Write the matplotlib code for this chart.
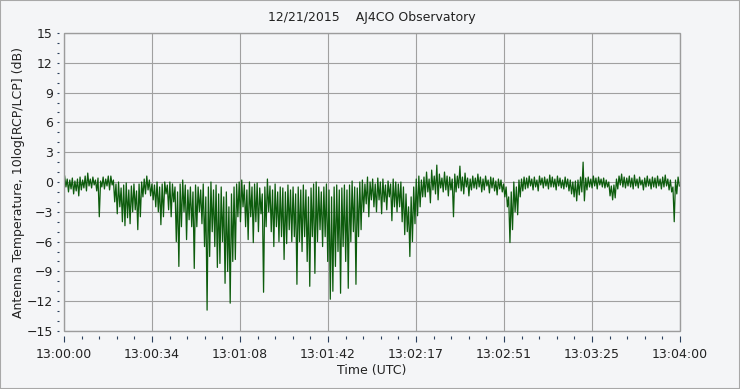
import matplotlib

matplotlib.use("Agg")
import matplotlib.pyplot as plt
import numpy as np
from matplotlib.patches import Rectangle
from matplotlib.ticker import AutoMinorLocator, FixedLocator

TITLE = "12/21/2015    AJ4CO Observatory"
XLABEL = "Time (UTC)"
YLABEL = "Antenna Temperature, 10log[RCP/LCP] (dB)"
XTICK_LABELS = ["13:00:00", "13:00:34", "13:01:08", "13:01:42",
                "13:02:17", "13:02:51", "13:03:25", "13:04:00"]
YTICKS = [-15, -12, -9, -6, -3, 0, 3, 6, 9, 12, 15]

# per-second envelope of the trace (dB), t = 0..239 s
upper = [
    0.6, 0.3, 0.2, 0.4, 0.1, 0.3, 0.5, 0.2, 0.6, 0.9,
    0.3, 0.5, 0.2, 0.4, 0.1, 0.5, 0.3, 0.6, 0.6, 0.2,
    -0.2, 0.0, -0.6, -0.3, -0.1, -0.8, -0.4, -0.2, -0.9, -0.2,
    0.0, 0.3, 0.6, 0.2, -0.2, -0.3, 0.0, -0.5, -0.2, 0.0,
    -0.3, 0.0, -0.2, -0.5, -1.0, -0.2, 0.2, -0.3, -0.8, -0.5,
    -1.0, -0.3, -0.5, -0.8, -0.2, -1.5, -0.5, 0.0, -0.8, -0.3,
    -1.2, -0.5, -1.5, -1.0, -2.5, -1.2, -0.5, -0.2, 0.0, 0.2,
    -0.3, -0.8, 0.0, -0.5, -0.2, -0.1, -0.6, -1.2, -0.5, 0.3,
    -0.4, -0.8, -0.2, -1.0, -0.5, -0.6, -1.0, -0.3, -0.8, -0.5,
    -1.2, -0.5, -0.8, -0.3, -0.8, -1.5, -0.6, -0.2, 0.0, -0.5,
    -1.0, -0.5, -0.2, -0.8, -1.5, -0.5, -0.3, -0.8, -0.6, -0.3,
    -0.8, -0.3, 0.1, -0.5, -0.6, 0.0, 0.2, -0.2, 0.5, 0.0,
    0.3, -0.2, 0.4, 0.0, 0.3, -0.3, 0.1, -0.2, 0.3, 0.0,
    -0.2, 0.0, -0.5, -1.2, -2.5, -1.5, -0.5, 0.3, 0.6, 0.2,
    0.5, 1.0, 0.3, 1.2, 0.6, 1.7, 0.8, 0.4, 1.0, 0.6,
    0.5, 0.3, 0.8, 0.6, 1.6, 0.5, 0.9, 0.4, 0.3, 0.6,
    0.4, 0.8, 0.5, 0.3, 0.6, 0.2, 0.5, 0.4, 0.1, 0.3,
    0.2, -0.2, -0.5, -1.5, -1.0, 0.0, -0.5, 0.2, 0.3, 0.5,
    0.4, 0.6, 0.3, 0.5, 0.2, 0.6, 0.4, 0.5, 0.3, 0.7,
    0.5, 0.3, 0.6, 0.4, 0.2, 0.5, 0.3, 0.2, 0.0, 0.1,
    0.2, 0.5, 2.0, 0.4, 0.5, 0.3, 0.6, 0.4, 0.5, 0.3,
    0.4, 0.2, 0.0, -0.4, -0.3, 0.3, 0.6, 0.8, 0.5, 0.4,
    0.6, 0.4, 0.7, 0.3, 0.5, 0.2, 0.4, 0.6, 0.3, 0.5,
    0.4, 0.6, 0.3, 0.5, 0.7, 0.3, 0.2, -0.5, 0.2, 0.5,
]
lower = [
    -0.5, -1.0, -0.7, -1.2, -0.9, -1.4, -0.8, -0.6, -0.9, -0.4,
    -0.6, -0.3, -0.9, -3.5, -0.5, -0.7, -0.4, -0.8, -0.3, -2.0,
    -3.2, -2.5, -4.0, -4.4, -3.6, -4.2, -3.0, -2.8, -4.8, -3.5,
    -1.5, -1.2, -0.8, -1.4, -1.8, -2.5, -3.0, -4.3, -3.5, -1.2,
    -2.8, -3.5, -2.0, -6.0, -8.5, -4.5, -3.0, -5.8, -3.8, -4.5,
    -8.7, -4.5, -3.0, -4.2, -6.5, -12.9, -7.5, -5.0, -6.5, -8.6,
    -8.2, -6.0, -10.2, -9.0, -12.2, -8.0, -7.8, -3.5, -4.0, -2.5,
    -4.5, -5.8, -3.5, -6.1, -4.0, -5.0, -3.2, -11.1, -4.5, -3.0,
    -5.0, -6.5, -4.5, -6.0, -5.5, -7.8, -6.2, -4.8, -6.0, -5.5,
    -10.3, -6.0, -7.0, -5.5, -8.0, -10.5, -5.5, -9.2, -6.0, -4.8,
    -6.5, -5.5, -8.0, -11.8, -11.0, -8.5, -7.0, -11.2, -6.5, -8.0,
    -10.7, -6.0, -5.0, -10.3, -5.5, -4.8, -3.0, -2.2, -3.5, -1.8,
    -2.5, -3.0, -1.8, -3.2, -2.0, -2.8, -1.5, -3.9, -2.5, -3.0,
    -2.5, -4.0, -5.3, -5.0, -7.5, -6.0, -4.2, -3.4, -2.5, -1.5,
    -1.5, -1.0, -2.1, -0.8, -1.2, -1.8, -0.6, -1.0, -0.8, -1.4,
    -0.8, -3.5, -1.0, -0.6, -0.9, -1.2, -0.5, -1.4, -0.8, -0.6,
    -0.7, -0.5, -1.0, -0.8, -0.4, -1.1, -0.6, -0.9, -1.3, -0.7,
    -1.0, -1.5, -2.5, -6.1, -4.8, -3.0, -3.3, -1.5, -0.9, -0.7,
    -0.6, -0.4, -0.8, -0.5, -0.9, -0.3, -0.6, -0.4, -0.7, -0.5,
    -0.5, -0.8, -0.4, -0.6, -0.7, -0.5, -0.9, -1.2, -1.5, -1.9,
    -1.3, -1.0, -1.9, -0.8, -0.5, -0.6, -0.4, -0.7, -0.3, -0.5,
    -0.6, -0.5, -1.4, -1.8, -1.6, -0.7, -0.3, -0.5, -0.6, -0.4,
    -0.5, -0.7, -0.4, -0.6, -0.3, -0.8, -0.5, -0.4, -0.7, -0.5,
    -0.6, -0.4, -0.7, -0.5, -0.4, -0.8, -1.0, -4.0, -1.2, -0.4,
]

BG = "#f4f5f7"
FRAME = "#9c9c9c"
TICKC = "#2b3f5c"
TXT = "#222222"
LINE = "#0d5c0d"

sec = np.arange(len(upper))
t = np.column_stack([sec + 0.25, sec + 0.75]).ravel()
v = np.column_stack([upper, lower]).ravel()

fig = plt.figure(figsize=(7.4, 3.89), dpi=100, facecolor=BG)
fig.patches.append(Rectangle((0, 0), 1, 1, transform=fig.transFigure,
                             fill=False, edgecolor="#a8a8a8", lw=1.5))
ax = fig.add_axes([64 / 740, 1 - 331 / 389, 616 / 740, 298 / 389])
ax.set_facecolor(BG)

ax.plot(t, v, color=LINE, lw=0.9)

ax.set_xlim(0, 240)
ax.set_ylim(-15, 15)
ax.xaxis.set_major_locator(FixedLocator(np.linspace(0, 240, len(XTICK_LABELS))))
ax.set_xticklabels(XTICK_LABELS)
ax.xaxis.set_minor_locator(AutoMinorLocator(5))
ax.set_yticks(YTICKS)
ax.yaxis.set_minor_locator(AutoMinorLocator(3))

# ticks sit a few pixels away from the plot frame, frame drawn separately
for s in ax.spines.values():
    s.set_visible(False)
ax.spines["bottom"].set_position(("outward", 3.6))
ax.spines["left"].set_position(("outward", 3.6))
ax.add_patch(Rectangle((0, 0), 1, 1, transform=ax.transAxes, fill=False,
                       edgecolor=FRAME, lw=1.0, clip_on=False, zorder=3))

ax.grid(True, which="major", color="#a0a0a0", lw=0.8)
ax.tick_params(axis="x", which="major", length=4, width=0.8, color=TICKC,
               pad=4.5, labelsize=9, labelcolor=TXT)
ax.tick_params(axis="x", which="minor", length=1.8, width=0.8, color=TICKC)
ax.tick_params(axis="y", which="both", length=1.5, width=0.8, color=TICKC,
               pad=3, labelsize=9, labelcolor=TXT)

ax.set_title(TITLE, fontsize=9, color=TXT, pad=9)
ax.set_xlabel(XLABEL, fontsize=9, color=TXT, labelpad=2)
ax.set_ylabel(YLABEL, fontsize=9, color=TXT, labelpad=1)

fig.savefig("out.png", dpi=100, facecolor=BG)
